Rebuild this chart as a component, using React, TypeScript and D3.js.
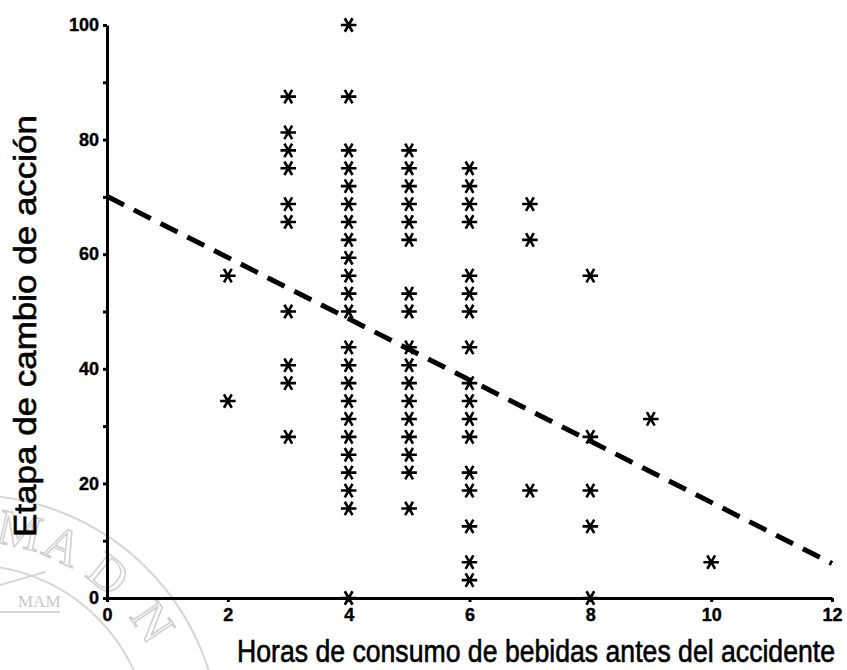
import React, { useEffect, useRef } from "react";
import * as d3 from "d3";

// puntajes de etapa de cambio por horas de consumo
const horas = [2, 3, 4, 5, 6, 7, 8, 9, 10];
const etapaH2 = [56.25, 34.375];
const etapaH3 = [87.5, 81.25, 78.125, 75, 68.75, 65.625, 50, 40.625, 37.5, 28.125];
const etapaH4 = [
  100, 87.5, 78.125, 75, 71.875, 68.75, 65.625, 62.5, 59.375, 56.25, 53.125, 50,
  43.75, 40.625, 37.5, 34.375, 31.25, 28.125, 25, 21.875, 18.75, 15.625, 0,
];
const etapaH5 = [
  78.125, 75, 71.875, 68.75, 65.625, 62.5, 53.125, 50, 43.75, 40.625, 37.5,
  34.375, 31.25, 28.125, 25, 21.875, 15.625,
];
const etapaH6 = [
  75, 71.875, 68.75, 65.625, 56.25, 53.125, 50, 43.75, 37.5, 34.375, 31.25,
  28.125, 21.875, 18.75, 12.5, 6.25, 3.125,
];
const etapaH7 = [68.75, 62.5, 18.75];
const etapaH8 = [56.25, 28.125, 18.75, 12.5, 0];
const etapaH9 = [31.25];
const etapaH10 = [6.25];

// recta de regresion
const intercepto = 70.1;
const pendiente = -5.34;

const xTicks = [0, 2, 4, 6, 8, 10, 12];
const yTicks = [0, 10, 20, 30, 40, 50, 60, 70, 80, 90, 100];
const yLabels = [0, 20, 40, 60, 80, 100];

const xTitle = "Horas de consumo de bebidas antes del accidente";
const yTitle = "Etapa de cambio de acción";

const FONT = "'Liberation Sans', Arial, sans-serif";

function App() {
  const ref = useRef<SVGSVGElement>(null);

  useEffect(() => {
    const columnas = [etapaH2, etapaH3, etapaH4, etapaH5, etapaH6, etapaH7, etapaH8, etapaH9, etapaH10];
    const puntos: { h: number; v: number }[] = [];
    columnas.forEach((col, i) => col.forEach((v) => puntos.push({ h: horas[i], v })));

    const svg = d3.select(ref.current);
    svg.selectAll("*").remove();

    const x = d3.scaleLinear().domain([0, 12]).range([107, 832]);
    const y = d3.scaleLinear().domain([0, 100]).range([598, 25]);

    // marca de agua (sello) en gris claro
    const cx = -30,
      cy = 745;
    const wm = svg.append("g").attr("fill", "none").attr("stroke", "#d6d6d6").attr("stroke-width", 2);
    wm.append("circle").attr("cx", cx).attr("cy", cy).attr("r", 250);
    wm.append("circle").attr("cx", cx).attr("cy", cy).attr("r", 180);
    const letras = [
      { t: "M", a: -77 },
      { t: "A", a: -65 },
      { t: "D", a: -51 },
      { t: "N", a: -34 },
    ];
    letras.forEach((l) => {
      const rad = (l.a * Math.PI) / 180;
      const px = cx + 215 * Math.cos(rad);
      const py = cy + 215 * Math.sin(rad);
      svg
        .append("text")
        .attr("x", px)
        .attr("y", py)
        .attr("transform", `rotate(${l.a + 90}, ${px}, ${py})`)
        .attr("text-anchor", "middle")
        .attr("dominant-baseline", "middle")
        .attr("font-family", "'Liberation Serif', serif")
        .attr("font-size", 50)
        .attr("fill", "none")
        .attr("stroke", "#cfcfcf")
        .attr("stroke-width", 1.5)
        .text(l.t);
    });
    svg
      .append("text")
      .attr("x", 18)
      .attr("y", 607)
      .attr("font-family", "'Liberation Serif', serif")
      .attr("font-size", 17)
      .attr("fill", "#c8c8c8")
      .text("MAM");
    wm.append("line").attr("x1", 0).attr("y1", 612).attr("x2", 60).attr("y2", 612);
    wm.append("line").attr("x1", 0).attr("y1", 585).attr("x2", 45).attr("y2", 572);

    // ejes
    const yAxis = svg
      .append("g")
      .attr("transform", `translate(${x(0)},0)`)
      .call(
        d3
          .axisLeft(y)
          .tickValues(yTicks)
          .tickSize(4)
          .tickSizeOuter(0)
          .tickPadding(4)
          .tickFormat((d) => (yLabels.includes(d as number) ? String(d) : ""))
      );
    const xAxis = svg
      .append("g")
      .attr("transform", `translate(0,${y(0)})`)
      .call(d3.axisBottom(x).tickValues(xTicks).tickSize(4).tickSizeOuter(0).tickPadding(6));

    [yAxis, xAxis].forEach((g) => {
      g.select(".domain").attr("stroke", "#000").attr("stroke-width", 3);
      g.selectAll(".tick line").attr("stroke", "#000").attr("stroke-width", 3);
      g.selectAll(".tick text")
        .attr("fill", "#000")
        .attr("stroke", "#000")
        .attr("stroke-width", 0.4)
        .attr("font-family", FONT)
        .attr("font-weight", "bold")
        .attr("font-size", 18);
    });

    // recta de regresion
    svg
      .append("line")
      .attr("x1", x(0))
      .attr("y1", y(intercepto))
      .attr("x2", x(12))
      .attr("y2", y(intercepto + pendiente * 12))
      .attr("stroke", "#000")
      .attr("stroke-width", 5)
      .attr("stroke-dasharray", "19,11");

    // asteriscos
    const simbolo = d3.symbol().type(d3.symbolAsterisk).size(170);
    svg
      .append("g")
      .selectAll("path")
      .data(puntos)
      .join("path")
      .attr("d", simbolo)
      .attr("transform", (d) => `translate(${x(d.h)},${y(d.v)}) rotate(90)`)
      .attr("fill", "none")
      .attr("stroke", "#000")
      .attr("stroke-width", 2.6);

    // titulos
    svg
      .append("text")
      .attr("x", 237)
      .attr("y", 662)
      .attr("font-family", FONT)
      .attr("font-size", 31)
      .attr("stroke", "#000")
      .attr("stroke-width", 0.6)
      .attr("textLength", 598)
      .attr("lengthAdjust", "spacingAndGlyphs")
      .text(xTitle);
    svg
      .append("text")
      .attr("transform", "translate(36,537) rotate(-90)")
      .attr("font-family", FONT)
      .attr("font-size", 32)
      .attr("stroke", "#000")
      .attr("stroke-width", 0.6)
      .attr("textLength", 422)
      .attr("lengthAdjust", "spacingAndGlyphs")
      .text(yTitle);
  }, []);

  return (
    <svg
      ref={ref}
      width={847}
      height={670}
      style={{ position: "absolute", left: 0, top: 0, background: "#fff" }}
    />
  );
}

export default App;
